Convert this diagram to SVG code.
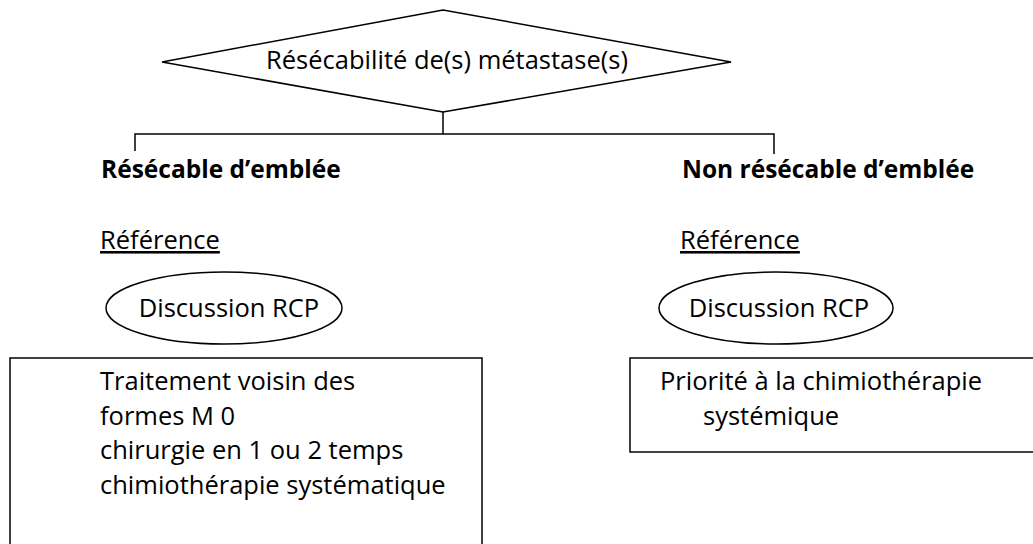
<svg xmlns="http://www.w3.org/2000/svg" width="1033" height="544" viewBox="0 0 1033 544">
<style>
.s{fill:#fff;stroke:#000;stroke-width:1.5}
.l{fill:none;stroke:#000;stroke-width:1.5}
text{font-family:"Open Sans","Liberation Sans",sans-serif;font-size:25.5px;fill:#000}
.b{font-weight:bold;font-size:24.5px}
.u{text-decoration:underline}
</style>
<rect width="1033" height="544" fill="#fff"/>
<g id="connectors">
<path class="l" d="M443,112 V134 M135,151 V134 H774 V154"/>
</g>
<g id="decision">
<polygon class="s" points="162,62 443,10 731,62 443,112"/>
<text x="447" y="69" text-anchor="middle">Résécabilité de(s) métastase(s)</text>
</g>
<g id="left-title"><text class="b" x="101" y="178">Résécable d’emblée</text></g>
<g id="right-title"><text class="b" x="682" y="178">Non résécable d’emblée</text></g>
<g id="left-ref"><text class="u" x="100" y="249">Référence</text></g>
<g id="right-ref"><text class="u" x="680" y="249">Référence</text></g>
<g id="left-rcp">
<ellipse class="s" cx="224" cy="308" rx="118" ry="36"/>
<text x="229" y="317" text-anchor="middle">Discussion RCP</text>
</g>
<g id="right-rcp">
<ellipse class="s" cx="776" cy="308" rx="117" ry="36"/>
<text x="779" y="317" text-anchor="middle">Discussion RCP</text>
</g>
<g id="left-box">
<rect class="s" x="10" y="358" width="472" height="200"/>
<text x="100" y="390">Traitement voisin des</text>
<text x="100" y="425">formes M 0</text>
<text x="100" y="459">chirurgie en 1 ou 2 temps</text>
<text x="100" y="494">chimiothérapie systématique</text>
</g>
<g id="right-box">
<rect class="s" x="630" y="358" width="420" height="94"/>
<text x="660" y="390">Priorité à la chimiothérapie</text>
<text x="703" y="425">systémique</text>
</g>
</svg>
